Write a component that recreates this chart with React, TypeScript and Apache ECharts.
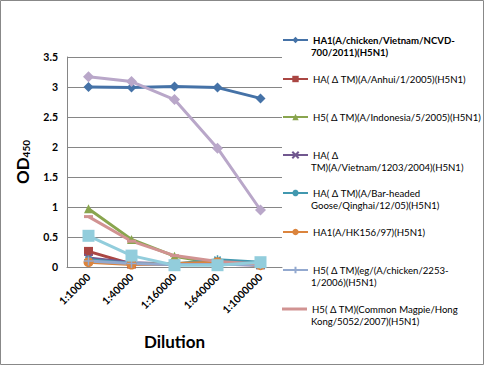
import React, { useEffect, useRef } from "react";
import * as echarts from "echarts";

const categories = ["1:10000", "1:40000", "1:160000", "1:640000", "1:1000000"];
const yTicks = [0, 0.5, 1, 1.5, 2, 2.5, 3, 3.5];

const s1 = [3.0, 2.99, 3.01, 2.99, 2.81];
const s2 = [0.26, 0.05, 0.05, 0.05, 0.04];
const s3 = [0.97, 0.46, 0.18, 0.06, 0.05];
const s4 = [0.15, 0.07, 0.05, 0.05, 0.03];
const s5 = [0.12, 0.06, 0.05, 0.12, 0.08];
const s6 = [0.08, 0.04, 0.06, 0.08, 0.03];
const s7 = [0.1, 0.06, 0.04, 0.04, 0.04];
const s8 = [0.84, 0.43, 0.19, 0.09, 0.05];
const s9 = [3.17, 3.09, 2.79, 1.98, 0.95];
const s10 = [0.52, 0.19, 0.03, 0.03, 0.08];

const names = [
  "HA1(A/chicken/Vietnam/NCVD-700/2011)(H5N1)",
  "HA( \u0394 TM)(A/Anhui/1/2005)(H5N1)",
  "H5( \u0394 TM)(A/Indonesia/5/2005)(H5N1)",
  "HA( \u0394 TM)(A/Vietnam/1203/2004)(H5N1)",
  "HA( \u0394 TM)(A/Bar-headed Goose/Qinghai/12/05)(H5N1)",
  "HA1(A/HK156/97)(H5N1)",
  "H5( \u0394 TM)(eg/(A/chicken/2253-1/2006)(H5N1)",
  "H5( \u0394 TM)(Common Magpie/Hong Kong/5052/2007)(H5N1)",
  "Series 9",
  "Series 10",
];
const legendLine1 = [
  "HA1(A/chicken/Vietnam/NCVD-",
  "HA( \u0394 TM)(A/Anhui/1/2005)(H5N1)",
  "H5( \u0394 TM)(A/Indonesia/5/2005)(H5N1)",
  "HA( \u0394",
  "HA( \u0394 TM)(A/Bar-headed",
  "HA1(A/HK156/97)(H5N1)",
  "H5( \u0394 TM)(eg/(A/chicken/2253-",
  "H5( \u0394 TM)(Common Magpie/Hong",
];
const legendLine2 = [
  "700/2011)(H5N1)",
  "",
  "",
  "TM)(A/Vietnam/1203/2004)(H5N1)",
  "Goose/Qinghai/12/05)(H5N1)",
  "",
  "1/2006)(H5N1)",
  "Kong/5052/2007)(H5N1)",
];

const allData = [s1, s2, s3, s4, s5, s6, s7, s8, s9, s10];
const colors = ["#4572A7", "#AA4643", "#89A54E", "#71588F", "#4198AF", "#DB843D", "#93A9CF", "#D19392", "#B9A7C9", "#92CDDC"];
const symbols = [
  "diamond",
  "rect",
  "triangle",
  "path://M0,0L10,10M10,0L0,10",
  "path://M5,0L5,10M0,5L10,5M1.5,1.5L8.5,8.5M8.5,1.5L1.5,8.5",
  "circle",
  "path://M5,0L5,10M0,5L10,5",
  "path://M0,4L10,4L10,6L0,6Z",
  "diamond",
  "rect",
];
const symbolSizes = [10, 9, 9, 8, 9, 10, 9, [9, 3], 11, 12];

const FONT = "Lato";

export default function App() {
  const ref = useRef<HTMLDivElement>(null);
  useEffect(() => {
    if (!ref.current) return;
    const chart = echarts.init(ref.current, null, { renderer: "svg" });
    const legendYs = [40, 79, 117, 155, 193, 232, 270, 309];
    const legends = legendYs.map((y, i) => ({
      show: true,
      data: [
        i === 7
          ? { name: names[i], icon: "path://M0,0L25,0L25,3L0,3Z" }
          : { name: names[i] },
      ],
      left: 282,
      top: y - 5,
      padding: 0,
      itemWidth: 25,
      itemHeight: 8,
      itemGap: 4,
      selectedMode: false,
      formatter: () => legendLine1[i],
      textStyle: {
        fontFamily: FONT,
        fontSize: 9.6,
        color: "#000",
        fontWeight: i === 0 ? "bold" : "normal",
      },
    }));
    const graphics: any[] = [
      {
        type: "rect",
        shape: { x: 0.5, y: 0.5, width: 483, height: 364 },
        style: { fill: "none", stroke: "#888", lineWidth: 1 },
        silent: true,
      },
    ];
    legendYs.forEach((y, i) => {
      if (legendLine2[i]) {
        graphics.push({
          type: "text",
          left: 311,
          top: y + 13 - 6,
          style: {
            text: legendLine2[i],
            font: `${i === 0 ? "bold " : ""}9.6px ${FONT}`,
            fill: "#000",
          },
        });
      }
    });
    const option: any = {
      animation: false,
      grid: { left: 67, right: 203, top: 57, bottom: 99 },
      legend: legends,
      graphic: graphics,
      xAxis: {
        type: "category",
        data: categories,
        boundaryGap: true,
        name: "Dilution",
        nameLocation: "middle",
        nameGap: 66,
        nameTextStyle: { fontFamily: FONT, fontSize: 17, fontWeight: "bold", color: "#000" },
        axisLine: { lineStyle: { color: "#868686", width: 1 } },
        axisTick: { show: false },
        axisLabel: {
          rotate: 45,
          fontFamily: FONT,
          fontSize: 10.5,
          fontWeight: "bold",
          color: "#000",
          margin: 8,
        },
      },
      yAxis: {
        type: "value",
        min: 0,
        max: 3.5,
        interval: 0.5,
        name: "{a|OD}{s|450}",
        nameLocation: "middle",
        nameRotate: 90,
        nameGap: 36,
        nameTextStyle: {
          rich: {
            a: { fontFamily: FONT, fontSize: 17, fontWeight: "bold", color: "#000" },
            s: { fontFamily: FONT, fontSize: 10, fontWeight: "bold", color: "#000", verticalAlign: "bottom", padding: [8, 0, 0, 0] },
          },
        },
        axisLine: { show: true, lineStyle: { color: "#868686", width: 1 } },
        axisTick: { show: false },
        splitLine: { lineStyle: { color: "#868686", width: 1 } },
        axisLabel: {
          fontFamily: FONT,
          fontSize: 10.5,
          fontWeight: "bold",
          color: "#000",
          margin: 9,
          formatter: (v: number) => (yTicks.includes(v) ? String(v) : ""),
        },
      },
      series: allData.map((d, i) => ({
        name: names[i],
        type: "line",
        data: d,
        color: colors[i],
        symbol: symbols[i],
        symbolSize: symbolSizes[i],
        lineStyle: { width: 3, color: colors[i] },
        itemStyle: {
          color: colors[i],
          borderColor: colors[i],
          borderWidth: symbols[i].startsWith("path://M5") || symbols[i].startsWith("path://M0,0") ? 1.5 : 0,
        },
      })),
    };
    chart.setOption(option);
    return () => chart.dispose();
  }, []);
  return (
    <div
      ref={ref}
      style={{ position: "absolute", left: 0, top: 0, width: 485, height: 366, background: "#fff" }}
    />
  );
}
